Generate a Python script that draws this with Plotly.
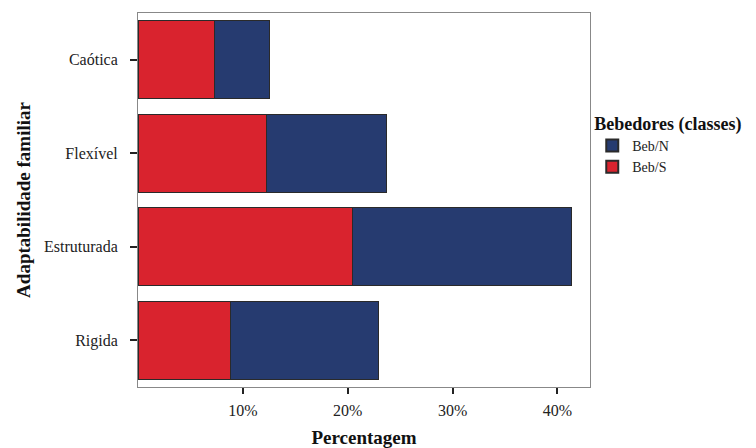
import plotly.graph_objects as go

categories = ["Caótica", "Flexível", "Estruturada", "Rigida"]
beb_s = [7.3, 12.3, 20.5, 8.8]
beb_n = [5.2, 11.4, 20.8, 14.1]
series_names = ["Beb/S", "Beb/N"]
x_ticks = [10, 20, 30, 40]
x_tick_labels = ["10%", "20%", "30%", "40%"]

FONT = "Liberation Serif"
RED = "#d9232e"
BLUE = "#263b70"

fig = go.Figure()
fig.add_trace(go.Bar(
    y=categories, x=beb_s, name=series_names[0], orientation="h",
    marker=dict(color=RED, line=dict(color="#2a2a2a", width=1)),
))
fig.add_trace(go.Bar(
    y=categories, x=beb_n, name=series_names[1], orientation="h",
    marker=dict(color=BLUE, line=dict(color="#2a2a2a", width=1)),
))

fig.update_layout(
    width=756, height=448,
    barmode="stack", bargap=0.17,
    paper_bgcolor="white", plot_bgcolor="white",
    margin=dict(l=130, r=174, t=5, b=69),
    font=dict(family=FONT, size=15, color="#222"),
    legend=dict(
        x=1.005, y=0.75, xanchor="left", yanchor="top",
        traceorder="reversed",
        title=dict(text="<b>Bebedores (classes)</b>", font=dict(family=FONT, size=18, color="#111")),
        font=dict(family=FONT, size=14, color="#222"),
        itemsizing="constant", tracegroupgap=0, itemwidth=30,
        bgcolor="rgba(0,0,0,0)",
    ),
    xaxis=dict(
        range=[0, 43.1], tickvals=x_ticks, ticktext=x_tick_labels,
        showgrid=False, zeroline=False, automargin=False,
        showline=True, mirror=True, linecolor="#888", linewidth=1,
        ticks="outside", ticklen=6, tickwidth=2, tickcolor="#222",
        ticklabelstandoff=3,
        tickfont=dict(family=FONT, size=16, color="#222"),
        title=dict(text="<b>Percentagem</b>", font=dict(family=FONT, size=19, color="#111"), standoff=12),
    ),
    yaxis=dict(
        categoryorder="array", categoryarray=categories[::-1],
        showgrid=False, zeroline=False, automargin=False,
        showline=True, mirror=True, linecolor="#888", linewidth=1,
        ticks="outside", ticklen=7, tickwidth=2, tickcolor="#222",
        ticklabelstandoff=9,
        tickfont=dict(family=FONT, size=16, color="#222"),
        title=dict(text="<b>Adaptabilidade familiar</b>", font=dict(family=FONT, size=19, color="#111"), standoff=8),
    ),
)

fig.write_html("out.html")
